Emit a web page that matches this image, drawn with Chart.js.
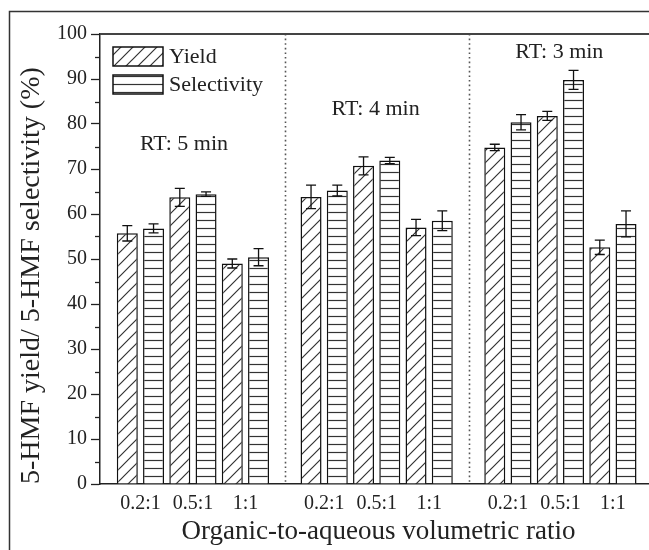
<!DOCTYPE html>
<html>
<head>
<meta charset="utf-8">
<script src="https://cdn.jsdelivr.net/npm/chart.js@4.4.1/dist/chart.umd.min.js"></script>
<style>
    html, body { margin: 0; padding: 0; background: #fff; overflow: hidden; }
    #wrap { width: 649px; height: 550px; overflow: hidden; }
</style>
</head>
<body>
<div id="wrap"><canvas id="chartRatio" width="665" height="550"></canvas></div>
<script>
// Datos
const ratioLabels = ['0.2:1', '0.5:1', '1:1', '0.2:1', '0.5:1', '1:1', '0.2:1', '0.5:1', '1:1'];
const rtLabels = ['RT: 5 min', 'RT: 4 min', 'RT: 3 min'];
const yieldVals = [55.7, 63.7, 49.0, 63.8, 70.7, 57.0, 74.8, 81.8, 52.6];
const yieldErr = [1.7, 2.0, 1.0, 2.6, 2.0, 1.8, 0.7, 1.0, 1.6];
const selVals = [56.8, 64.4, 50.4, 65.2, 71.9, 58.5, 80.4, 89.8, 57.8];
const selErr = [1.0, 0.5, 1.9, 1.2, 0.7, 2.2, 1.7, 2.1, 2.9];
const yTicks = [0, 10, 20, 30, 40, 50, 60, 70, 80, 90, 100];

// Posición de cada categoría: 3 grupos de 3, con hueco entre grupos
const xPos = ratioLabels.map((_, i) => Math.floor(i / 3) * 3.5 + (i % 3));
const SERIF = "'Liberation Serif', 'Times New Roman', serif";
const INK = '#222';

// Anotaciones (coordenadas en unidades de los ejes)
const rtAt = [{ x: 0.83, y: 75.4 }, { x: 4.48, y: 83.2 }, { x: 7.98, y: 96 }];

function hatch(kind) {
    const s = kind === 'diag' ? 12 : 8;
    const c = document.createElement('canvas');
    c.width = s; c.height = s;
    const g = c.getContext('2d');
    g.fillStyle = '#fff';
    g.fillRect(0, 0, s, s);
    g.strokeStyle = '#333';
    g.lineWidth = 1.2;
    g.beginPath();
    if (kind === 'diag') {
        g.moveTo(0, s); g.lineTo(s, 0);
        g.moveTo(-s / 2, s / 2); g.lineTo(s / 2, -s / 2);
        g.moveTo(s / 2, s * 1.5); g.lineTo(s * 1.5, s / 2);
    } else {
        g.moveTo(0, s / 2 + 0.5); g.lineTo(s, s / 2 + 0.5);
    }
    g.stroke();
    return g.createPattern(c, 'repeat');
}

const patYield = hatch('diag');
const patSel = hatch('horiz');
const errors = [yieldErr, selErr];

const extras = {
    id: 'extras',
    afterDatasetsDraw(chart) {
        const { ctx, chartArea: a, scales: { x, y } } = chart;
        ctx.save();

        // Barras de error
        ctx.strokeStyle = '#111';
        ctx.lineWidth = 1.3;
        chart.data.datasets.forEach((ds, d) => {
            chart.getDatasetMeta(d).data.forEach((bar, i) => {
                const v = ds.data[i].y;
                const e = errors[d][i];
                const yt = y.getPixelForValue(v + e);
                const yb = y.getPixelForValue(v - e);
                ctx.beginPath();
                ctx.moveTo(bar.x, yt); ctx.lineTo(bar.x, yb);
                ctx.moveTo(bar.x - 5, yt); ctx.lineTo(bar.x + 5, yt);
                ctx.moveTo(bar.x - 5, yb); ctx.lineTo(bar.x + 5, yb);
                ctx.stroke();
            });
        });

        // Separadores punteados entre grupos
        ctx.strokeStyle = '#555';
        ctx.lineWidth = 1.6;
        ctx.setLineDash([1.6, 3]);
        [2.75, 6.25].forEach(v => {
            const px = Math.round(x.getPixelForValue(v)) + 0.5;
            ctx.beginPath();
            ctx.moveTo(px, a.top);
            ctx.lineTo(px, a.bottom);
            ctx.stroke();
        });
        ctx.setLineDash([]);

        // Textos RT
        ctx.fillStyle = INK;
        ctx.font = `22px ${SERIF}`;
        ctx.textAlign = 'center';
        ctx.textBaseline = 'middle';
        rtLabels.forEach((t, i) => {
            ctx.fillText(t, x.getPixelForValue(rtAt[i].x), y.getPixelForValue(rtAt[i].y));
        });

        // Leyenda dentro del área
        const pats = [patYield, patSel];
        ctx.textAlign = 'left';
        chart.data.datasets.forEach((ds, d) => {
            const bx = a.left + 13;
            const by = a.top + 13 + d * 28;
            ctx.fillStyle = pats[d];
            ctx.fillRect(bx, by, 50, 19);
            ctx.strokeStyle = '#111';
            ctx.lineWidth = 1.5;
            ctx.strokeRect(bx, by, 50, 19);
            ctx.fillStyle = INK;
            ctx.fillText(ds.label, bx + 56, by + 10);
        });

        ctx.restore();
    },
    afterDraw(chart) {
        const { ctx, chartArea: a, scales: { y } } = chart;
        ctx.save();
        ctx.strokeStyle = INK;

        // Marcas menores del eje Y
        ctx.lineWidth = 1.3;
        for (let v = 5; v < 100; v += 10) {
            const py = Math.round(y.getPixelForValue(v)) + 0.5;
            ctx.beginPath();
            ctx.moveTo(a.left - 5, py);
            ctx.lineTo(a.left, py);
            ctx.stroke();
        }

        // Línea superior del área
        ctx.strokeStyle = '#444';
        ctx.lineWidth = 2;
        ctx.beginPath();
        ctx.moveTo(a.left, a.top);
        ctx.lineTo(chart.width, a.top);
        ctx.stroke();

        // Marco exterior de la figura
        ctx.strokeStyle = '#333';
        ctx.lineWidth = 1.5;
        ctx.strokeRect(9.5, 11.5, 800, 700);
        ctx.restore();
    }
};

new Chart(document.getElementById('chartRatio'), {
    type: 'bar',
    data: {
        datasets: [
            {
                label: 'Yield',
                data: yieldVals.map((v, i) => ({ x: xPos[i], y: v })),
                backgroundColor: patYield,
                borderColor: '#111',
                borderWidth: 1.5
            },
            {
                label: 'Selectivity',
                data: selVals.map((v, i) => ({ x: xPos[i], y: v })),
                backgroundColor: patSel,
                borderColor: '#111',
                borderWidth: 1.5
            }
        ]
    },
    options: {
        responsive: false,
        animation: false,
        devicePixelRatio: 1,
        categoryPercentage: 1.0,
        barPercentage: 0.8,
        layout: { padding: { left: 0, top: 34, right: 8, bottom: 0 } },
        plugins: {
            legend: { display: false },
            tooltip: { enabled: false }
        },
        scales: {
            x: {
                type: 'linear',
                min: -0.77,
                max: 9.84,
                offset: false,
                afterBuildTicks: s => { s.ticks = xPos.map(v => ({ value: v })); },
                afterFit: s => { s.height = 66; },
                grid: { display: true, drawOnChartArea: false, drawTicks: false, offset: false },
                border: { display: true, color: INK, width: 1.5 },
                ticks: {
                    autoSkip: false,
                    maxRotation: 0,
                    padding: 8,
                    color: INK,
                    font: { family: SERIF, size: 20 },
                    callback: (v, i) => ratioLabels[i]
                },
                title: {
                    display: true,
                    text: 'Organic-to-aqueous volumetric ratio',
                    color: INK,
                    font: { family: SERIF, size: 27 },
                    padding: { top: 0, bottom: 2 }
                }
            },
            y: {
                min: 0,
                max: 100,
                afterBuildTicks: s => { s.ticks = yTicks.map(v => ({ value: v })); },
                afterFit: s => { s.width = 100; },
                grid: { display: true, drawOnChartArea: false, drawTicks: true, tickLength: 9, tickColor: INK, tickWidth: 1.3 },
                border: { display: true, color: INK, width: 1.5 },
                ticks: {
                    padding: 4,
                    color: INK,
                    font: { family: SERIF, size: 20 }
                },
                title: {
                    display: true,
                    text: '5-HMF yield/ 5-HMF selectivity (%)',
                    align: 'start',
                    color: INK,
                    font: { family: SERIF, size: 28 },
                    padding: { top: 15, bottom: 0 }
                }
            }
        }
    },
    plugins: [extras]
});
</script>
</body>
</html>
